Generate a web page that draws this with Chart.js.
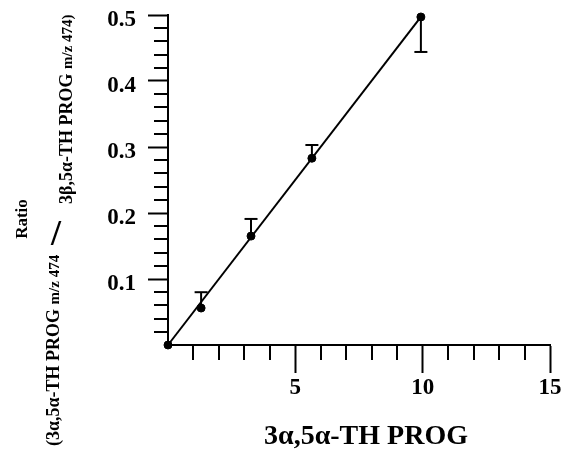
<!DOCTYPE html>
<html><head><meta charset="utf-8">
<script src="https://cdn.jsdelivr.net/npm/chart.js@4/dist/chart.umd.min.js"></script>
<style>html,body{margin:0;padding:0;background:#fff}canvas{display:block}</style>
</head><body>
<canvas id="c" width="566" height="455"></canvas>
<script>
// ---- data ----
const concX      = [0, 1.30, 3.26, 5.65, 9.93];
const ratioY     = [0, 0.056, 0.165, 0.283, 0.497];
const errUpper   = [null, 0.080, 0.191, 0.303, null];
const errLower   = [null, null, null, null, 0.444];
const fitX       = [0, 9.93];
const fitY       = [0, 0.497];
const xMajorTicks = [5, 10, 15];
const xMinorTicks = [1, 2, 3, 4, 6, 7, 8, 9, 11, 12, 13, 14];
const yMajorTicks = [0.1, 0.2, 0.3, 0.4, 0.5];
const yTickLabels = ['0.1', '0.2', '0.3', '0.4', '0.5'];
const yMinorTicks = [0.02, 0.04, 0.06, 0.08, 0.12, 0.14, 0.16, 0.18, 0.22, 0.24, 0.26, 0.28,
                     0.32, 0.34, 0.36, 0.38, 0.42, 0.44, 0.46, 0.48];
const xTitle = '3α,5α-TH PROG';
const yTitleTop = 'Ratio';
const yNumerMain = '(3α,5α-TH PROG ';
const yNumerSmall = 'm/z 474';
const yDenomMain = '3β,5α-TH PROG ';
const yDenomSmall = 'm/z 474)';
const ySlash = '/';

const SERIF = '"Liberation Serif", "Times New Roman", serif';

const extras = {
  id: 'extras',
  afterDraw(chart) {
    const ctx = chart.ctx, xs = chart.scales.x, ys = chart.scales.y, ca = chart.chartArea;
    ctx.save();
    ctx.strokeStyle = '#000';
    ctx.lineWidth = 2;
    // minor ticks
    xMinorTicks.forEach(v => {
      const px = Math.round(xs.getPixelForValue(v));
      ctx.beginPath(); ctx.moveTo(px, ca.bottom); ctx.lineTo(px, ca.bottom + 15); ctx.stroke();
    });
    yMinorTicks.forEach(v => {
      const py = Math.round(ys.getPixelForValue(v));
      ctx.beginPath(); ctx.moveTo(ca.left - 14, py); ctx.lineTo(ca.left, py); ctx.stroke();
    });
    // error bars (one-sided)
    concX.forEach((xv, i) => {
      const px = xs.getPixelForValue(xv);
      const py = ys.getPixelForValue(ratioY[i]);
      [errUpper[i], errLower[i]].forEach(e => {
        if (e === null) return;
        const pe = ys.getPixelForValue(e);
        ctx.beginPath(); ctx.moveTo(px, py); ctx.lineTo(px, pe); ctx.stroke();
        ctx.beginPath(); ctx.moveTo(px - 6.5, pe); ctx.lineTo(px + 6.5, pe); ctx.stroke();
      });
    });
    // titles
    ctx.fillStyle = '#000';
    ctx.textAlign = 'center';
    ctx.textBaseline = 'middle';
    ctx.font = 'bold 28px ' + SERIF;
    ctx.fillText(xTitle, 366, 437);

    // slash (upright)
    ctx.font = 'bold 36px ' + SERIF;
    ctx.fillText(ySlash, 56, 236);

    function rotText(parts, baseX, startY) {
      ctx.save();
      ctx.translate(baseX, startY);
      ctx.rotate(-Math.PI / 2);
      ctx.textAlign = 'left';
      ctx.textBaseline = 'alphabetic';
      let u = 0;
      parts.forEach(([t, size]) => {
        ctx.font = 'bold ' + size + 'px ' + SERIF;
        ctx.fillText(t, u, 0);
        u += ctx.measureText(t).width;
      });
      ctx.restore();
    }
    ctx.save();
    ctx.translate(27, 219);
    ctx.rotate(-Math.PI / 2);
    ctx.textAlign = 'center';
    ctx.textBaseline = 'alphabetic';
    ctx.font = 'bold 17px ' + SERIF;
    ctx.fillText(yTitleTop, 0, 0);
    ctx.restore();
    rotText([[yNumerMain, 18], [yNumerSmall, 15]], 59, 446);
    rotText([[yDenomMain, 18], [yDenomSmall, 15]], 72, 204);
    ctx.restore();
  }
};

const tickFont = { family: SERIF, size: 23, weight: 'bold' };

new Chart(document.getElementById('c'), {
  type: 'scatter',
  data: {
    datasets: [
      {
        type: 'line',
        data: fitX.map((x, i) => ({ x, y: fitY[i] })),
        borderColor: '#000', borderWidth: 2, pointRadius: 0, fill: false, tension: 0, clip: false
      },
      {
        data: concX.map((x, i) => ({ x, y: ratioY[i] })),
        backgroundColor: '#000', borderColor: '#000', pointRadius: 4, pointHoverRadius: 4, clip: false
      }
    ]
  },
  options: {
    responsive: false,
    animation: false,
    events: [],
    layout: { padding: { left: 0, top: 15, right: 16, bottom: 0 } },
    plugins: { legend: { display: false }, tooltip: { enabled: false } },
    scales: {
      x: {
        type: 'linear', min: 0, max: 15,
        afterBuildTicks: s => { s.ticks = xMajorTicks.map(v => ({ value: v })); },
        afterFit: s => { s.height = 110; s.paddingLeft = 0; s.paddingRight = 0; },
        grid: { drawOnChartArea: false, drawTicks: true, tickLength: 28, tickWidth: 2, tickColor: '#000' },
        border: { display: true, color: '#000', width: 2 },
        ticks: { font: tickFont, color: '#000', padding: 1, maxRotation: 0, autoSkip: false,
                 callback: v => String(v) }
      },
      y: {
        type: 'linear', min: 0, max: 0.5,
        afterBuildTicks: s => { s.ticks = yMajorTicks.map(v => ({ value: v })); },
        afterFit: s => { s.width = 168; s.paddingTop = 0; s.paddingBottom = 0; },
        grid: { drawOnChartArea: false, drawTicks: true, tickLength: 20, tickWidth: 2, tickColor: '#000' },
        border: { display: true, color: '#000', width: 2 },
        ticks: { font: tickFont, color: '#000', padding: 12, labelOffset: 5, autoSkip: false,
                 callback: (v, i) => yTickLabels[i] }
      }
    }
  },
  plugins: [extras]
});
</script>
</body></html>
